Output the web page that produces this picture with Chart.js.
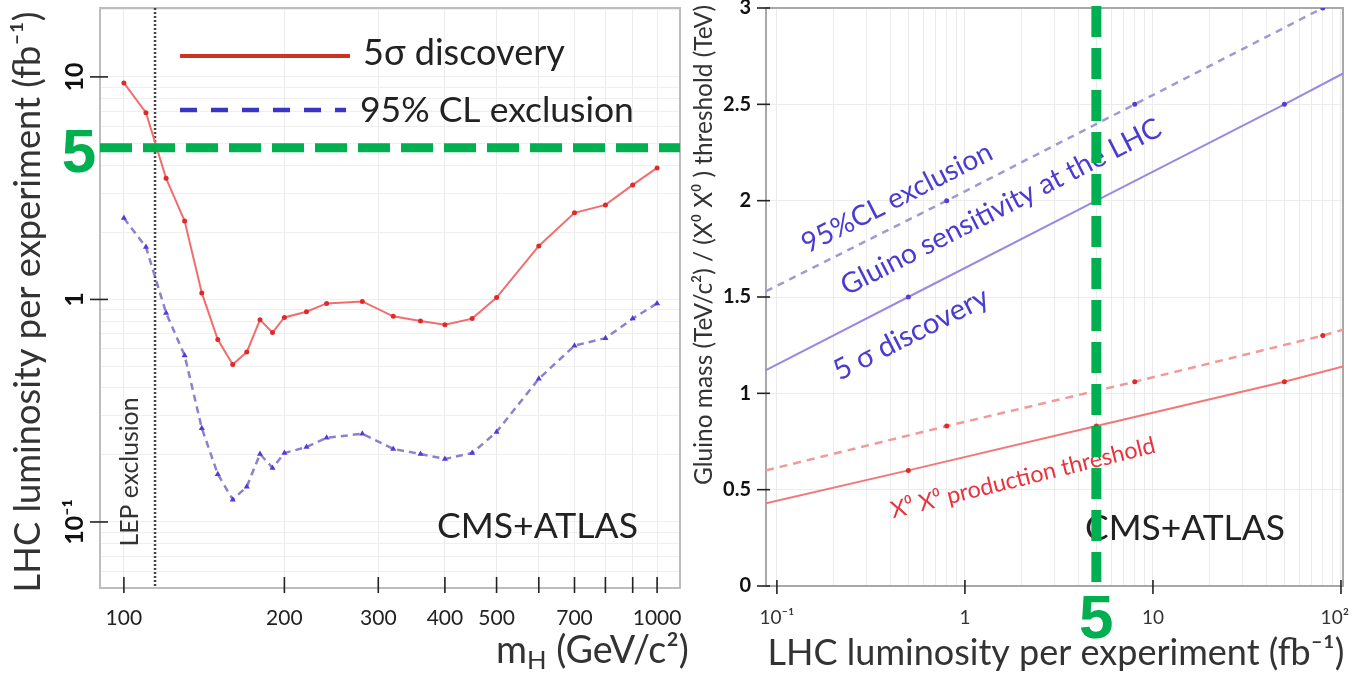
<!DOCTYPE html>
<html>
<head>
<meta charset="utf-8">
<script src="https://cdn.jsdelivr.net/npm/chart.js@4.4.1/dist/chart.umd.min.js"></script>
<style>
  html, body { margin: 0; padding: 0; background: #fff; }
  #left { position: absolute; left: 0; top: 0; }
  #right { position: absolute; left: 690px; top: 0; }
</style>
</head>
<body>
<canvas id="left" width="690" height="677"></canvas>
<canvas id="right" width="661" height="677"></canvas>
<script>
// ---- left panel: Higgs luminosity vs mH ----
const massH = [100, 110, 120, 130, 140, 150, 160, 170, 180, 190, 200, 220, 240, 280, 320, 360, 400, 450, 500, 600, 700, 800, 900, 1000];
const lumiDiscovery = [9.4, 6.9, 3.5, 2.25, 1.07, 0.66, 0.51, 0.58, 0.81, 0.71, 0.83, 0.88, 0.96, 0.98, 0.84, 0.80, 0.77, 0.82, 1.02, 1.74, 2.45, 2.66, 3.27, 3.9];
const lumiExclusion = [2.32, 1.72, 0.87, 0.56, 0.264, 0.164, 0.126, 0.144, 0.202, 0.175, 0.204, 0.217, 0.239, 0.249, 0.213, 0.202, 0.192, 0.204, 0.254, 0.44, 0.62, 0.67, 0.82, 0.96];
const massTicks = [100, 200, 300, 400, 500, 600, 700, 800, 900, 1000];
const massLabels = ['100', '200', '300', '400', '500', '', '700', '', '', '1000'];
const lumiTicks = [0.1, 1, 10];
const lumiLabels = ['10\u207B\u00B9', '1', '10'];
const lepLimit = 114.4;
const markLumi = 4.8;

// ---- right panel: gluino mass vs luminosity ----
const lumiDisc = [0.0875, 0.5, 5, 50, 102.5];
const gluinoDisc = [1.12, 1.5, 2.0, 2.5, 2.66];
const thresholdDisc = [0.43, 0.6, 0.83, 1.06, 1.14];
const lumiExcl = [0.0875, 0.8, 8, 80];
const gluinoExcl = [1.53, 2.0, 2.5, 3.0];
const lumiThrExcl = [0.0875, 0.8, 8, 80, 102.5];
const thresholdExcl = [0.6, 0.83, 1.06, 1.3, 1.33];
const decadeTicks = [0.1, 1, 10, 100];
const decadeLabels = ['10\u207B\u00B9', '1', '10', '10\u00B2'];
const massTicksTeV = [0, 0.5, 1, 1.5, 2, 2.5, 3];
const massLabelsTeV = ['0', '0.5', '1', '1.5', '2', '2.5', '3'];
const markLumiRight = 5;

const FONT = 'Lato';

function pairs(xs, ys) {
    return xs.map((x, i) => ({ x: x, y: ys[i] }));
}

function logGrid(lo, hi) {
    const out = [];
    for (let e = -2; e <= 3; e++) {
        for (let k = 1; k < 10; k++) {
            const v = k * Math.pow(10, e);
            if (v >= lo * 0.999 && v <= hi * 1.001) out.push(v);
        }
    }
    return out;
}

// text helper, optional width fitting
function txt(ctx, s, x, y, o) {
    ctx.save();
    ctx.translate(x, y);
    if (o.rot) ctx.rotate(o.rot * Math.PI / 180);
    const fam = o.family || FONT;
    const wt = o.weight || 'normal';
    let size = o.size || 20;
    if (o.width) {
        ctx.font = wt + ' 100px ' + fam;
        size = 100 * o.width / ctx.measureText(s).width;
    }
    ctx.font = wt + ' ' + size + 'px ' + fam;
    ctx.fillStyle = o.color || '#222';
    ctx.textAlign = o.align || 'center';
    ctx.textBaseline = o.base || 'middle';
    ctx.fillText(s, 0, 0);
    ctx.restore();
}

function line(ctx, x1, y1, x2, y2, color, w, dash) {
    ctx.save();
    ctx.strokeStyle = color;
    ctx.lineWidth = w;
    ctx.setLineDash(dash || []);
    ctx.beginPath();
    ctx.moveTo(x1, y1);
    ctx.lineTo(x2, y2);
    ctx.stroke();
    ctx.restore();
}

const leftDecor = {
    id: 'leftDecor',
    beforeDatasetsDraw(chart) {
        const ctx = chart.ctx, a = chart.chartArea;
        ctx.save();
        ctx.strokeStyle = '#bdbdbd';
        ctx.lineWidth = 2;
        ctx.strokeRect(a.left, a.top, a.right - a.left, a.bottom - a.top);
        ctx.restore();
        const xl = chart.scales.x.getPixelForValue(lepLimit);
        line(ctx, xl, a.top, xl, a.bottom, '#444', 2.5, [2, 2]);
    },
    afterDraw(chart) {
        const ctx = chart.ctx, a = chart.chartArea;
        const sx = chart.scales.x, sy = chart.scales.y;
        // tick marks crossing the frame
        massTicks.forEach(v => {
            const x = sx.getPixelForValue(v);
            line(ctx, x, a.bottom - 11, x, a.bottom + 5, '#222', 1.6);
        });
        lumiTicks.forEach((v, i) => {
            const y = sy.getPixelForValue(v);
            line(ctx, a.left - 10, y, a.left + 8, y, '#222', 1.6);
            txt(ctx, lumiLabels[i], 83, y, { rot: -90, size: 25, weight: 'bold', base: 'alphabetic', color: '#111' });
        });
        // axis titles
        txt(ctx, 'LHC luminosity per experiment (fb\u207B\u00B9)', 40, 302, { rot: -90, width: 581, base: 'alphabetic', color: '#333' });
        const parts = [['m', 1, 0], ['H', 0.68, 6], [' (GeV/c\u00B2)', 1, 0]];
        ctx.save();
        let tot = 0;
        parts.forEach(p => { ctx.font = (100 * p[1]) + 'px ' + FONT; tot += ctx.measureText(p[0]).width; });
        ctx.restore();
        const k = 193 / tot;
        let x0 = 689 - 193;
        parts.forEach(p => {
            const size = 100 * k * p[1];
            txt(ctx, p[0], x0, 663 + p[2], { size: size, align: 'left', base: 'alphabetic', color: '#333' });
            ctx.save();
            ctx.font = size + 'px ' + FONT;
            x0 += ctx.measureText(p[0]).width;
            ctx.restore();
        });
        // legend
        line(ctx, 180, 56, 350, 56, '#cc3322', 4);
        txt(ctx, '5\u03C3 discovery', 363, 65, { width: 202, align: 'left', base: 'alphabetic' });
        line(ctx, 180, 110, 346, 110, '#3b35c6', 4.5, [17, 14]);
        txt(ctx, '95% CL exclusion', 360, 122, { width: 274, align: 'left', base: 'alphabetic' });
        // labels
        txt(ctx, 'LEP exclusion', 138, 472, { rot: -90, width: 149, base: 'alphabetic', color: '#333' });
        txt(ctx, 'CMS+ATLAS', 437, 538, { width: 201, align: 'left', base: 'alphabetic' });
        // green marker line at 5 fb-1
        const yg = sy.getPixelForValue(markLumi);
        line(ctx, a.left, yg, a.right, yg, '#00b050', 9, [32, 11]);
        txt(ctx, '5', 79, yg + 24, { size: 62, weight: 'bold', family: 'Liberation Sans', base: 'alphabetic', color: '#00b050' });
    }
};

const rightDecor = {
    id: 'rightDecor',
    beforeDatasetsDraw(chart) {
        const ctx = chart.ctx, a = chart.chartArea;
        ctx.save();
        ctx.strokeStyle = '#a8a8a8';
        ctx.lineWidth = 2;
        ctx.strokeRect(a.left, a.top, a.right - a.left, a.bottom - a.top);
        ctx.restore();
    },
    afterDraw(chart) {
        const ctx = chart.ctx, a = chart.chartArea;
        const sx = chart.scales.x, sy = chart.scales.y;
        massTicksTeV.forEach(v => {
            const y = sy.getPixelForValue(v);
            line(ctx, a.left - 9, y, a.left + 4, y, '#222', 1.6);
        });
        decadeTicks.forEach((v, i) => {
            const x = sx.getPixelForValue(v);
            line(ctx, x, a.bottom - 6, x, a.bottom + 8, '#222', 1.6);
            const last = i === decadeTicks.length - 1;
            txt(ctx, decadeLabels[i], last ? 659 : x, 618, { size: 19, align: last ? 'right' : 'center', color: '#333' });
        });
        // axis titles
        txt(ctx, 'Gluino mass (TeV/c\u00B2) / (X\u2070 X\u2070 ) threshold (TeV)', 22, 245, { rot: -90, width: 480, base: 'alphabetic', color: '#333' });
        txt(ctx, 'LHC luminosity per experiment (fb\u207B\u00B9)', 366, 665, { width: 577, base: 'alphabetic', color: '#333' });
        // curve annotations
        txt(ctx, '95%CL exclusion', 207, 198, { rot: -27, width: 210, color: '#4a3cd0' });
        txt(ctx, 'Gluino sensitivity at the LHC', 311, 207, { rot: -27, width: 356, color: '#4a3cd0' });
        txt(ctx, '5 \u03C3 discovery', 221, 334, { rot: -27, width: 170, color: '#4a3cd0' });
        txt(ctx, 'X\u2070 X\u2070 production threshold', 333, 478, { rot: -14, width: 272, color: '#e8333d' });
        txt(ctx, 'CMS+ATLAS', 395, 540, { width: 200, align: 'left', base: 'alphabetic' });
        // green marker line at 5 fb-1
        const xg = sx.getPixelForValue(markLumiRight);
        line(ctx, xg, a.top - 2, xg, a.bottom - 4, '#00b050', 10, [31, 11]);
        txt(ctx, '5', xg, 638, { size: 62, weight: 'bold', family: 'Liberation Sans', base: 'alphabetic', color: '#00b050' });
    }
};

// Left chart
const ctxLeft = document.getElementById('left').getContext('2d');
const leftChart = new Chart(ctxLeft, {
    type: 'line',
    data: {
        datasets: [
            {
                label: '5\u03C3 discovery',
                data: pairs(massH, lumiDiscovery),
                borderColor: '#f26d6d',
                borderWidth: 2,
                pointRadius: 2.5,
                pointBackgroundColor: '#e02a2a',
                pointBorderWidth: 0,
                tension: 0
            },
            {
                label: '95% CL exclusion',
                data: pairs(massH, lumiExclusion),
                borderColor: '#8d80cc',
                borderDash: [7, 5],
                borderWidth: 2.5,
                pointStyle: 'triangle',
                pointRadius: 3.5,
                pointBackgroundColor: '#5a36d6',
                pointBorderWidth: 0,
                tension: 0
            }
        ]
    },
    options: {
        responsive: false,
        animation: false,
        devicePixelRatio: 1,
        layout: { padding: { top: 8, right: 10, left: 0, bottom: 0 } },
        plugins: { legend: { display: false }, tooltip: { enabled: false } },
        scales: {
            x: {
                type: 'logarithmic',
                min: 90.2,
                max: 1104,
                afterBuildTicks: s => { s.ticks = massTicks.map(v => ({ value: v })); },
                afterFit: s => { s.height = 89; s.paddingLeft = 0; s.paddingRight = 0; },
                grid: { color: '#ebebeb', drawTicks: false },
                border: { display: false },
                ticks: {
                    autoSkip: false, maxRotation: 0, minRotation: 0, padding: 18,
                    color: '#222', font: { family: FONT, size: 21 },
                    callback: (v, i) => massLabels[i]
                }
            },
            y: {
                type: 'logarithmic',
                min: 0.0505,
                max: 20.4,
                afterBuildTicks: s => { s.ticks = logGrid(0.06, 20).map(v => ({ value: v })); },
                afterFit: s => { s.width = 100; s.paddingTop = 0; s.paddingBottom = 0; },
                grid: { color: '#efefef', drawTicks: false },
                border: { display: false },
                ticks: { display: false }
            }
        }
    },
    plugins: [leftDecor]
});

// Right chart
const ctxRight = document.getElementById('right').getContext('2d');
const edgeless = ctx => (ctx.raw && (ctx.raw.x < 0.09 || ctx.raw.x > 100)) ? 0 : 2.5;
const rightChart = new Chart(ctxRight, {
    type: 'line',
    data: {
        datasets: [
            {
                label: '95%CL exclusion',
                data: pairs(lumiExcl, gluinoExcl),
                borderColor: '#a298d2',
                borderDash: [7, 6],
                borderWidth: 2.5,
                pointRadius: edgeless,
                pointBackgroundColor: '#5a3ad6',
                pointBorderWidth: 0
            },
            {
                label: '5 \u03C3 discovery',
                data: pairs(lumiDisc, gluinoDisc),
                borderColor: '#9c88e0',
                borderWidth: 2,
                pointRadius: edgeless,
                pointBackgroundColor: '#5a3ad6',
                pointBorderWidth: 0
            },
            {
                label: 'threshold exclusion',
                data: pairs(lumiThrExcl, thresholdExcl),
                borderColor: '#f29a9a',
                borderDash: [8, 6],
                borderWidth: 2.5,
                pointRadius: edgeless,
                pointBackgroundColor: '#e02a2a',
                pointBorderWidth: 0
            },
            {
                label: 'threshold discovery',
                data: pairs(lumiDisc, thresholdDisc),
                borderColor: '#f27878',
                borderWidth: 2,
                pointRadius: edgeless,
                pointBackgroundColor: '#e02a2a',
                pointBorderWidth: 0
            }
        ]
    },
    options: {
        responsive: false,
        animation: false,
        devicePixelRatio: 1,
        layout: { padding: { top: 8, right: 8, left: 0, bottom: 0 } },
        plugins: { legend: { display: false }, tooltip: { enabled: false } },
        scales: {
            x: {
                type: 'logarithmic',
                min: 0.0875,
                max: 102.5,
                afterBuildTicks: s => { s.ticks = logGrid(0.1, 100).map(v => ({ value: v })); },
                afterFit: s => { s.height = 91; s.paddingLeft = 0; s.paddingRight = 0; },
                grid: { color: '#ececec', drawTicks: false },
                border: { display: false },
                ticks: { display: false }
            },
            y: {
                min: 0,
                max: 3,
                afterBuildTicks: s => { s.ticks = massTicksTeV.map(v => ({ value: v })); },
                afterFit: s => { s.width = 76; s.paddingTop = 0; s.paddingBottom = 0; },
                grid: { color: '#ececec', drawTicks: false },
                border: { display: false },
                ticks: {
                    padding: 15, color: '#111', font: { family: FONT, size: 20, weight: 'bold' },
                    callback: (v, i) => massLabelsTeV[i]
                }
            }
        }
    },
    plugins: [rightDecor]
});
</script>
</body>
</html>
